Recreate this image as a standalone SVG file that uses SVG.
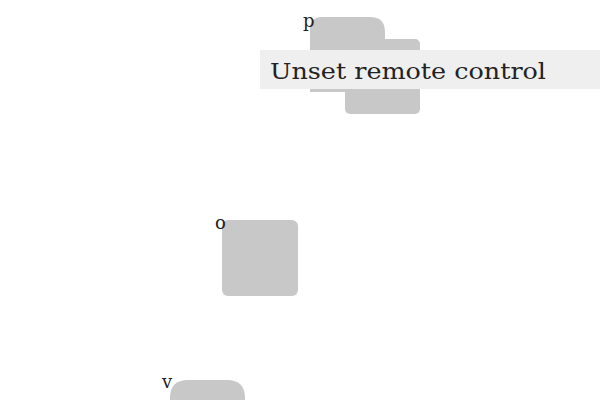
<svg xmlns="http://www.w3.org/2000/svg" width="600" height="400" viewBox="0 0 600 400">
<style>
.shape{fill:#c8c8c8}
.lbl{font-family:"DejaVu Serif","Liberation Serif",serif;font-size:18px;fill:#222}
.band{fill:#efefef}
.bandtext{font-family:"DejaVu Serif","Liberation Serif",serif;font-size:23px;fill:#222}
</style>
<rect width="600" height="400" fill="#fff"/>
<g id="node-p">
<path class="shape" d="M322,17 H370 Q385,17 385,32 V92 H310 V29 Q310,17 322,17 Z"/>
<rect class="shape" x="345" y="39" width="75" height="75" rx="5"/>
<text class="lbl" x="303" y="27">p</text>
</g>
<g id="node-o">
<rect class="shape" x="222" y="220" width="76" height="76" rx="6"/>
<text class="lbl" x="215" y="229">o</text>
</g>
<g id="node-v">
<path class="shape" d="M188,380 H227 Q245,380 245,398 V400 H170 V398 Q170,380 188,380 Z"/>
<text class="lbl" x="162" y="388">v</text>
</g>
<g id="label">
<rect class="band" x="260" y="50" width="340" height="39"/>
<text class="bandtext" x="270" y="79" textLength="276" lengthAdjust="spacingAndGlyphs">Unset remote control</text>
</g>
<g id="connectors"></g>
</svg>
